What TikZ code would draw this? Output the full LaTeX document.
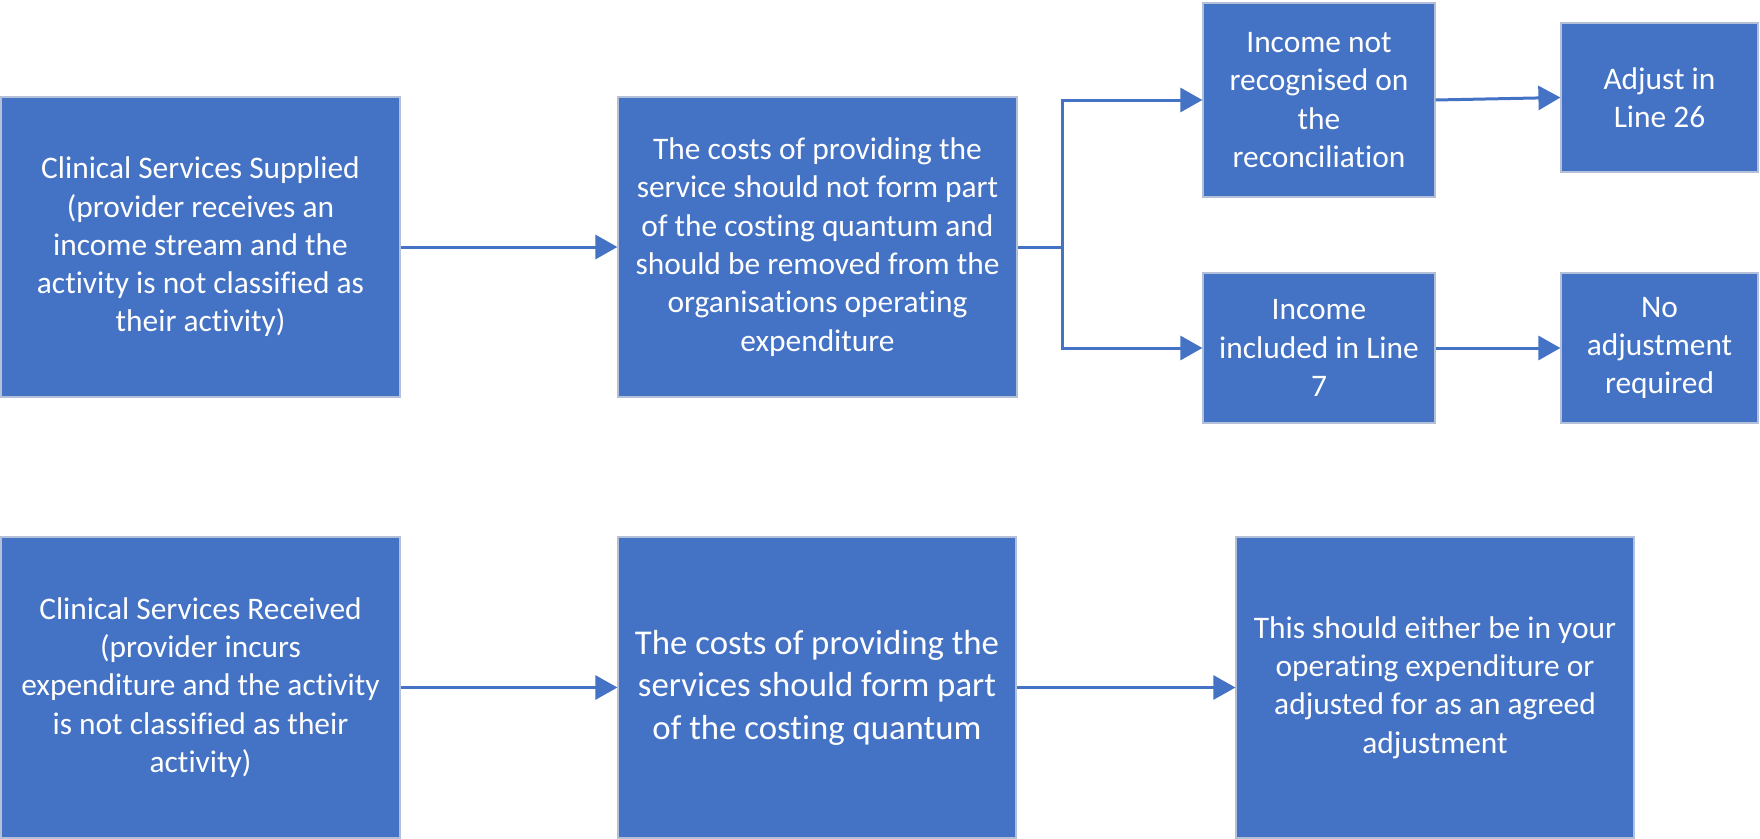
\documentclass[tikz,border=0pt]{standalone}
\usepackage{fontspec}
\setmainfont{Carlito}[Ligatures=CommonOff]
\usetikzlibrary{arrows.meta}
\definecolor{boxblue}{HTML}{4472C4}
\definecolor{boxedge}{HTML}{B4C0D8}
\tikzset{
  box/.style={rectangle, fill=boxblue, draw=boxedge, line width=1.2pt, inner sep=0pt,
    text=white, align=center, font=\fontsize{31.4}{38.3}\selectfont},
  bigbox/.style={box, font=\fontsize{34.8}{42.5}\selectfont},
  conn/.style={draw=boxblue, line width=3pt, -{Triangle[length=22pt,width=24pt]}}
}
\begin{document}
\begin{tikzpicture}[x=1pt,y=-1pt]
\useasboundingbox (0,0) rectangle (1760,838);
\node[box, minimum width=399pt, minimum height=300pt] (A) at (200.5,247)
  {Clinical Services Supplied\\(provider receives an\\income stream and the\\activity is not classified as\\their activity)};
\node[box, minimum width=399pt, minimum height=300pt] (B) at (817.5,247)
  {The costs of providing the\\service should not form part\\of the costing quantum and\\should be removed from the\\organisations operating\\expenditure};
\node[box, minimum width=232pt, minimum height=194pt] (C) at (1319,100)
  {Income not\\recognised on\\the\\reconciliation};
\node[box, minimum width=197pt, minimum height=149pt] (D) at (1659.5,97.5)
  {Adjust in\\Line 26};
\node[box, minimum width=232pt, minimum height=150pt] (E) at (1319,348)
  {Income\\included in Line\\7};
\node[box, minimum width=197pt, minimum height=150pt] (F) at (1659.5,348)
  {No\\adjustment\\required};
\node[box, minimum width=399pt, minimum height=301pt] (G) at (200.5,687.5)
  {Clinical Services Received\\(provider incurs\\expenditure and the activity\\is not classified as their\\activity)};
\node[bigbox, minimum width=398pt, minimum height=301pt] (H) at (817,687.5)
  {The costs of providing the\\services should form part\\of the costing quantum};
\node[box, minimum width=398pt, minimum height=301pt] (I) at (1435,687.5)
  {This should either be in your\\operating expenditure or\\adjusted for as an agreed\\adjustment};
\draw[conn] (A.east) -- (B.west);
\draw[conn] (B.east) -- ++(45,0) |- (C.west);
\draw[conn] (B.east) -- ++(45,0) |- (E.west);
\draw[conn] (C.east) -- (D.west);
\draw[conn] (E.east) -- (F.west);
\draw[conn] (G.east) -- (H.west);
\draw[conn] (H.east) -- (I.west);
\end{tikzpicture}
\end{document}
